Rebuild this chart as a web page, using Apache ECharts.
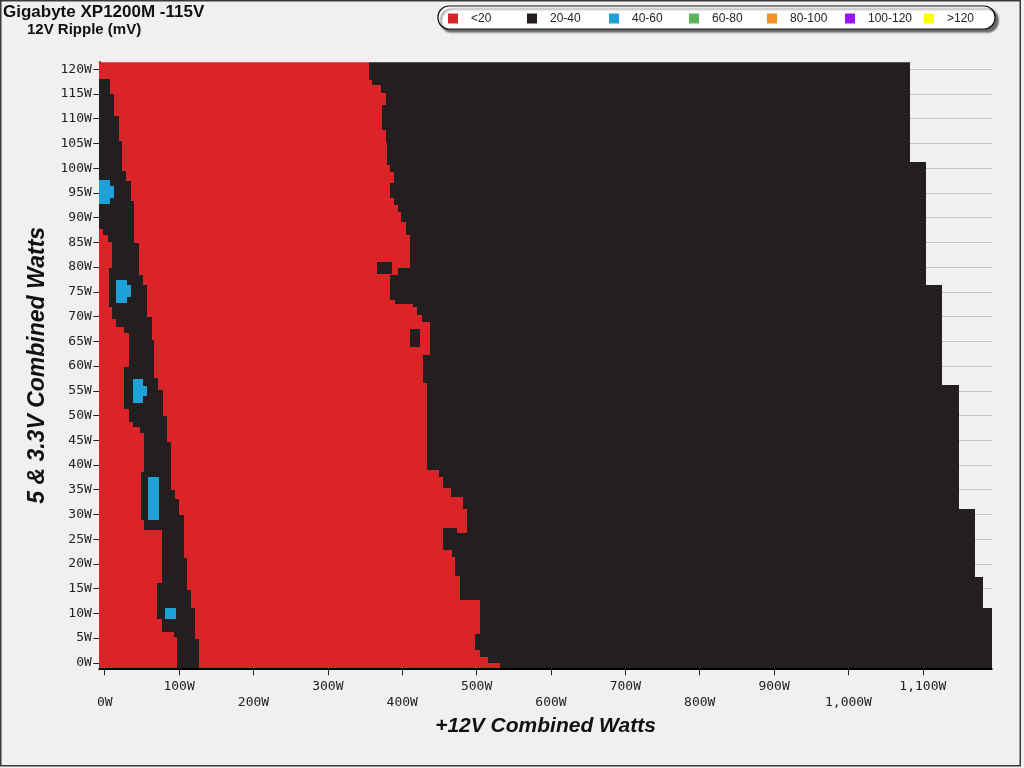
<!DOCTYPE html>
<html><head><meta charset="utf-8">
<script src="https://cdn.jsdelivr.net/npm/echarts@6/dist/echarts.min.js"></script>
<style>html,body{margin:0;padding:0;background:#f0f0f0;}#c{width:1024px;height:768px;}</style>
</head><body><div id="c"></div>
<script>
// ---- legend classes (12V ripple, mV) ----
const classes = ['<20', '20-40', '40-60', '60-80', '80-100', '100-120', '>120'];
const classColors = ['#da2427', '#231f20', '#1da1d6', '#5bb65a', '#f0922b', '#9b12f0', '#ffff00'];

// ---- tick labels ----
const xTicks = [0, 100, 200, 300, 400, 500, 600, 700, 800, 900, 1000, 1100];
const yTicks = [0, 5, 10, 15, 20, 25, 30, 35, 40, 45, 50, 55, 60, 65, 70, 75, 80, 85, 90, 95, 100, 105, 110, 115, 120];
const X_MIN = -7.3, X_MAX = 1192.6, Y_MIN = -1.1, Y_MAX = 121.4;

// ---- region boundaries ----
// each entry: [5&3.3V watts (top of step), +12V watts]; applies down to the next entry
const leftBandStart = [ // left edge of the low-load 20-40 band
  [121.4, -7.3], [87.7, -1.9], [86.5, 4.9], [85.1, 9.4], [79.8, 6.2], [72.0, 9.4], [69.6, 15.2],
  [67.9, 26.0], [66.6, 32.7], [59.9, 26.0], [51.4, 32.7], [48.7, 37.7], [47.7, 47.5], [46.4, 52.9],
  [38.6, 49.2], [28.9, 52.9], [26.8, 76.7], [16.2, 70.8], [8.8, 76.7], [6.3, 93.2], [5.3, 97.7]
];
const leftBandEnd = [ // right edge of the low-load 20-40 band
  [121.4, -7.3], [118.0, 7.3], [114.9, 12.5], [110.6, 18.8], [105.5, 22.8], [99.4, 28.2], [97.4, 35.0],
  [93.4, 39.4], [84.8, 45.7], [78.5, 51.0], [76.4, 57.3], [70.0, 63.2], [65.3, 66.7], [57.5, 72.1],
  [55.1, 78.0], [49.9, 84.2], [44.7, 89.2], [34.9, 94.6], [33.2, 100.4], [29.9, 106.7], [21.1, 110.3],
  [14.7, 116.1], [11.0, 121.5], [4.9, 127.3]
];
const blackStart = [ // where the high-load 20-40 region begins
  [121.4, 354.7], [117.8, 360.0], [116.8, 371.3], [115.1, 378.0], [112.8, 372.7], [107.7, 378.0],
  [105.0, 379.4], [100.6, 383.8], [99.3, 389.2], [96.9, 383.8], [93.9, 389.6], [92.6, 393.7],
  [91.2, 398.6], [89.2, 404.9], [86.5, 410.7], [79.8, 393.7], [78.4, 383.8], [73.3, 390.0],
  [72.6, 415.0], [72.0, 419.7], [70.3, 426.5], [69.0, 437.6], [62.2, 427.8], [56.5, 433.2],
  [39.0, 448.8], [37.6, 455.5], [35.3, 465.5], [33.6, 481.6], [31.2, 487.0], [24.8, 454.7],
  [22.8, 466.8], [21.4, 471.3], [17.5, 478.0], [12.7, 504.0], [5.9, 498.2], [2.6, 505.0],
  [1.2, 516.0], [0.0, 530.9]
];
const dataEnd = [ // last tested +12V load
  [121.4, 1082.5], [101.2, 1104.5], [76.4, 1126.0], [56.2, 1148.4], [31.1, 1170.0], [17.3, 1181.0], [11.0, 1192.6]
];
// isolated patches: [x0, x1, y0, y1]
const blueSpots = [
  [-7.3, 7.3, 92.7, 97.6], [7.3, 12.9, 93.9, 96.3],
  [15.2, 29.5, 72.7, 77.4], [29.5, 35.0, 74.0, 76.4],
  [37.7, 51.0, 52.5, 57.4], [51.0, 57.3, 53.9, 56.0],
  [58.7, 73.0, 28.9, 37.5],
  [81.5, 95.5, 8.8, 11.0]
];
const blackSpots = [
  [366.0, 386.0, 78.7, 81.1],
  [410.7, 424.0, 63.9, 67.4],
  [454.7, 473.6, 26.2, 27.2], [454.7, 487.0, 24.8, 26.2]
];

// ---- build rectangles ----
function stepAt(steps, yHi) {
  let v = steps[0][1];
  for (const s of steps) { if (s[0] >= yHi - 1e-9) v = s[1]; else break; }
  return v;
}
const seriesData = classes.map(() => []);
(function build() {
  const set = new Set([Y_MIN]);
  [leftBandStart, leftBandEnd, blackStart, dataEnd].forEach(a => a.forEach(s => set.add(s[0])));
  const br = Array.from(set).sort((a, b) => b - a);
  for (let i = 0; i < br.length - 1; i++) {
    const yHi = br[i], yLo = br[i + 1];
    const L1 = stepAt(leftBandStart, yHi), L2 = stepAt(leftBandEnd, yHi);
    const R = stepAt(blackStart, yHi), E = stepAt(dataEnd, yHi);
    seriesData[0].push([X_MIN, R, yLo, yHi]);
    if (L2 > L1) seriesData[1].push([L1, L2, yLo, yHi]);
    seriesData[1].push([R, E, yLo, yHi]);
  }
  blackSpots.forEach(s => seriesData[1].push(s));
  blueSpots.forEach(s => seriesData[2].push(s));
})();

function renderRect(params, api) {
  const p0 = api.coord([api.value(0), api.value(3)]);
  const p1 = api.coord([api.value(1), api.value(2)]);
  const x = Math.round(p0[0]), y = Math.round(p0[1]);
  const w = Math.round(p1[0]) - x, h = Math.round(p1[1]) - y;
  return { type: 'rect', shape: { x: x, y: y, width: w, height: h }, style: { fill: api.visual('color') } };
}

function fmtW(v) {
  const s = v >= 1000 ? Math.floor(v / 1000) + ',' + String(v % 1000).padStart(3, '0') : String(v);
  return s + 'W';
}
const xMinor = []; for (let v = 0; v <= 1175; v += 25) xMinor.push(v);
const yMinor = []; for (let v = 0; v <= 121; v += 1) yMinor.push(v);

const MONO = '"DejaVu Sans Mono", monospace';
const SANS = '"Liberation Sans", Arial, sans-serif';

// legend layout (pixel positions of each key)
const legendLeft = [448, 527, 609, 689, 767, 845, 924];

const chart = echarts.init(document.getElementById('c'), null, { renderer: 'canvas' });
chart.setOption({
  animation: false,
  backgroundColor: '#f0f0f0',
  title: [
    { text: 'Gigabyte XP1200M -115V', left: 3, top: 4, padding: 0,
      textStyle: { fontFamily: SANS, fontSize: 17, fontWeight: 'bold', color: '#111' } },
    { text: '12V Ripple (mV)', left: 27, top: 22, padding: 0,
      textStyle: { fontFamily: SANS, fontSize: 15, fontWeight: 'bold', color: '#111' } }
  ],
  legend: classes.map((name, i) => ({
    data: [name], left: legendLeft[i], top: 12.5, padding: 0, z: 5, selectedMode: false,
    icon: 'rect', itemWidth: 10, itemHeight: 10,
    textStyle: { fontFamily: SANS, fontSize: 12, color: '#222', padding: [0, 0, 0, 8] }
  })),
  grid: { left: 99.3, right: 32.3, top: 62.3, bottom: 99.7, containLabel: false },
  xAxis: [
    { type: 'value', min: X_MIN, max: X_MAX, position: 'bottom',
      axisLine: { show: true, onZero: false, lineStyle: { color: '#000', width: 2 } },
      axisTick: { show: true, customValues: xTicks, length: 7, lineStyle: { color: '#222', width: 1 } },
      axisLabel: { customValues: xTicks, margin: 10.5, fontFamily: MONO, fontSize: 13, color: '#222', lineHeight: 16,
        formatter: v => ((Math.round(v / 100) % 2 === 0) ? '\n' : '') + fmtW(v) },
      splitLine: { show: false },
      name: '+12V Combined Watts', nameLocation: 'middle', nameGap: 43,
      nameTextStyle: { fontFamily: SANS, fontSize: 21, fontWeight: 'bold', fontStyle: 'italic', color: '#111' } },
    { type: 'value', min: X_MIN, max: X_MAX, position: 'bottom',
      axisLine: { show: false }, axisLabel: { show: false }, splitLine: { show: false },
      axisTick: { show: true, customValues: xMinor, length: 4, lineStyle: { color: '#222', width: 1 } } }
  ],
  yAxis: [
    { type: 'value', min: Y_MIN, max: Y_MAX, position: 'left',
      axisLine: { show: true, onZero: false, lineStyle: { color: '#000', width: 2 } },
      axisTick: { show: true, customValues: yTicks, length: 6, lineStyle: { color: '#222', width: 1 } },
      axisLabel: { customValues: yTicks, margin: 7.5, fontFamily: MONO, fontSize: 13, color: '#222', formatter: v => fmtW(v) },
      splitLine: { show: true, lineStyle: { color: '#c4c4c4', width: 1 } },
      name: '5 & 3.3V Combined Watts', nameLocation: 'middle', nameGap: 50,
      nameTextStyle: { fontFamily: SANS, fontSize: 23, fontWeight: 'bold', fontStyle: 'italic', color: '#111' } },
    { type: 'value', min: Y_MIN, max: Y_MAX, position: 'left',
      axisLine: { show: false }, axisLabel: { show: false }, splitLine: { show: false },
      axisTick: { show: true, customValues: yMinor, length: 3, lineStyle: { color: '#222', width: 1 } } }
  ],
  series: classes.map((name, i) => ({
    name: name, type: 'custom', renderItem: renderRect, clip: true,
    itemStyle: { color: classColors[i] },
    encode: { x: [0, 1], y: [2, 3] },
    data: seriesData[i]
  })),
  graphic: [
    { type: 'rect', silent: true, z: 1, shape: { x: 438, y: 6, width: 557, height: 23, r: 11 },
      style: { fill: '#ffffff', stroke: '#111', lineWidth: 1.2,
        shadowColor: 'rgba(0,0,0,0.55)', shadowBlur: 2, shadowOffsetX: 3, shadowOffsetY: 3 } },
    { type: 'rect', silent: true, z: 100, shape: { x: 0.75, y: 0.75, width: 1019.5, height: 765 },
      style: { fill: 'none', stroke: '#3a3a3a', lineWidth: 1.5 } }
  ]
});
</script></body></html>
